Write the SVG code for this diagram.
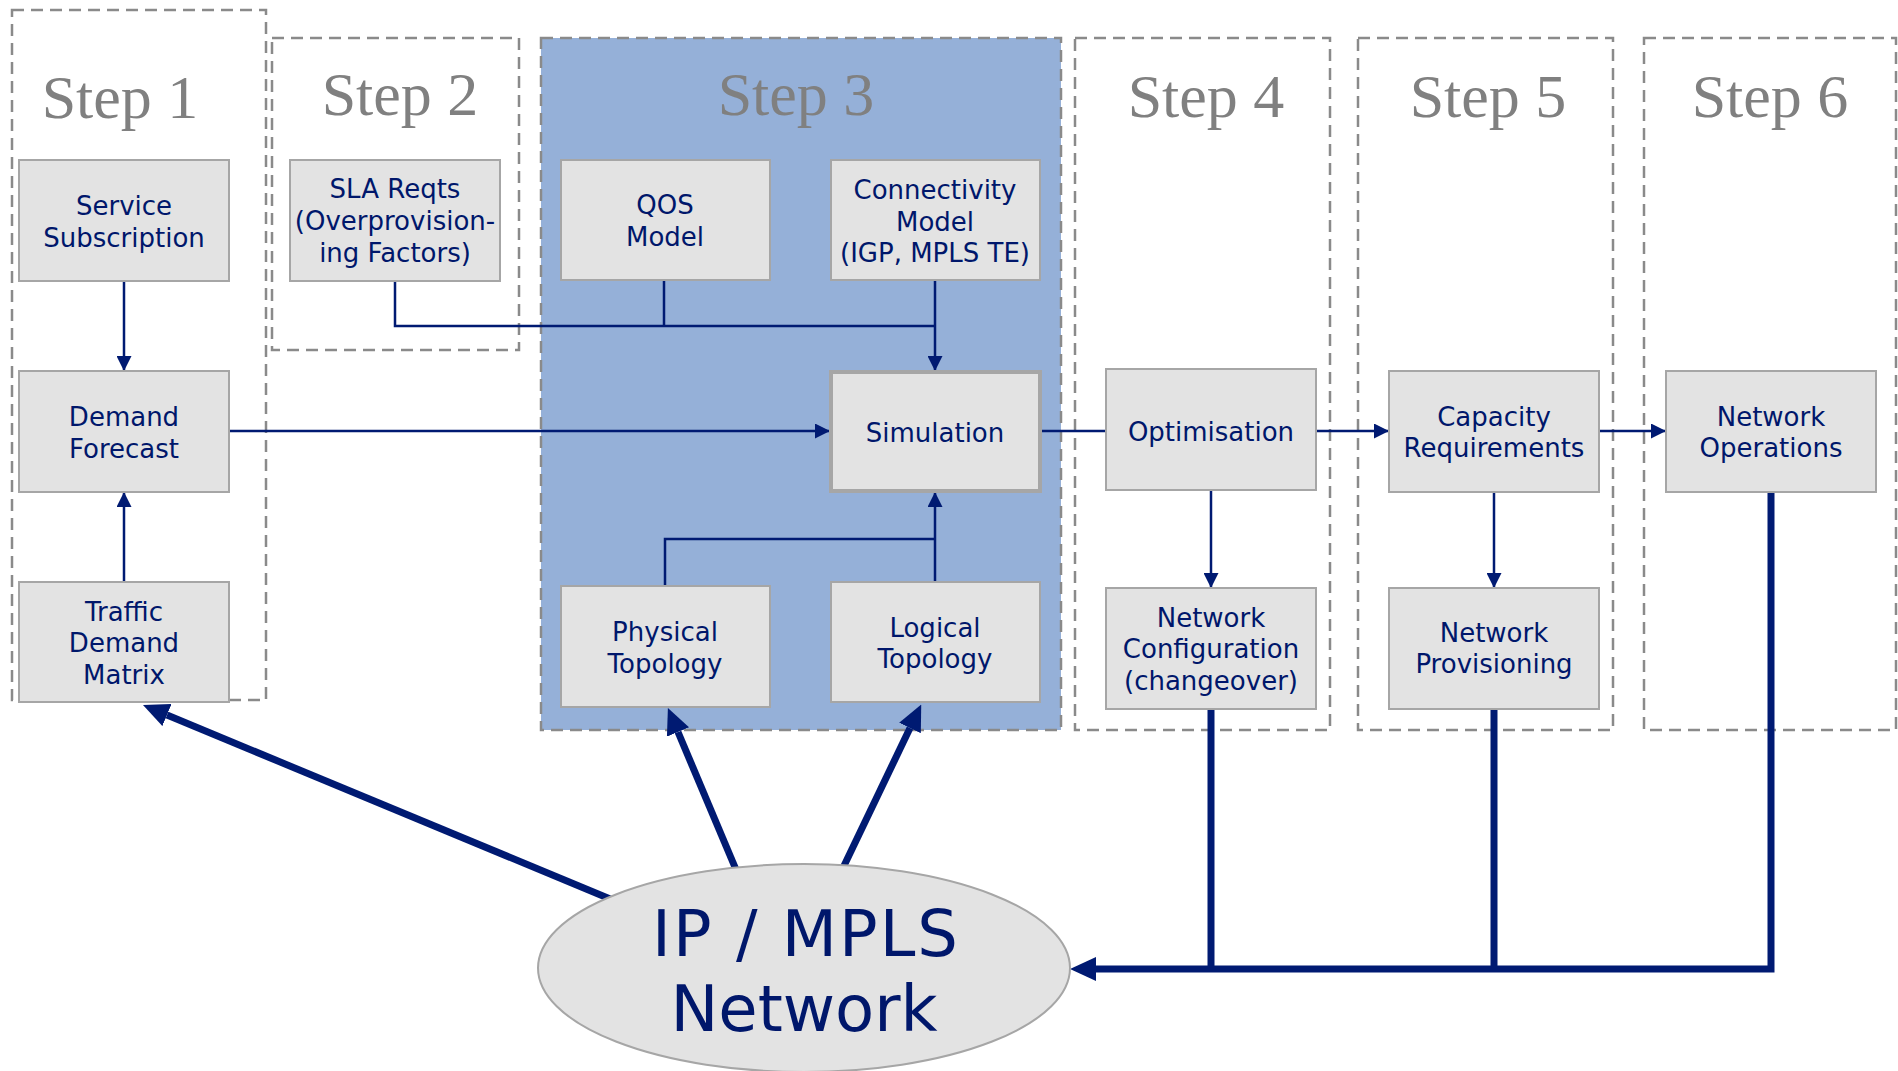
<svg xmlns="http://www.w3.org/2000/svg" width="1898" height="1071" viewBox="0 0 1898 1071">
<style>
.step{fill:none;stroke:#8a8a8a;stroke-width:2.5;stroke-dasharray:12 7}
.step3{fill:#95b0d8;stroke:#8a8a8a;stroke-width:2.5;stroke-dasharray:12 7}
.steplbl{font-family:"Liberation Serif","Times New Roman",serif;font-size:62px;fill:#808080;text-anchor:middle}
.box{fill:#e3e3e3;stroke:#a6a6a6;stroke-width:2}
.boxb{fill:#e3e3e3;stroke:#a6a6a6;stroke-width:4}
.lbl{font-family:"DejaVu Sans",Verdana,sans-serif;font-size:26px;fill:#00176b;text-anchor:middle}
.big{font-family:"DejaVu Sans",Verdana,sans-serif;font-size:64px;fill:#00176b;text-anchor:middle}
.thin{fill:none;stroke:#001a72;stroke-width:2.5}
.thick{fill:none;stroke:#001a72;stroke-width:7}
</style>
<defs>
<marker id="ah" markerUnits="userSpaceOnUse" markerWidth="15" markerHeight="15" refX="15" refY="7.5" orient="auto">
<path d="M0,0 L15,7.5 L0,15 z" fill="#001a72"/>
</marker>
<marker id="ahT" markerUnits="userSpaceOnUse" markerWidth="26" markerHeight="24" refX="0" refY="12" orient="auto">
<path d="M0,0 L26,12 L0,24 z" fill="#001a72"/>
</marker>
</defs>

<g id="step1"><rect class="step" x="12" y="10" width="254" height="690"/><text class="steplbl" x="120" y="118">Step 1</text></g>
<g id="step2"><rect class="step" x="272" y="38" width="247" height="312"/><text class="steplbl" x="400" y="115">Step 2</text></g>
<g id="step3"><rect class="step3" x="541" y="38" width="520" height="692"/><text class="steplbl" x="796" y="115">Step 3</text></g>
<g id="step4"><rect class="step" x="1075" y="38" width="255" height="692"/><text class="steplbl" x="1206" y="117">Step 4</text></g>
<g id="step5"><rect class="step" x="1358" y="38" width="255" height="692"/><text class="steplbl" x="1488" y="117">Step 5</text></g>
<g id="step6"><rect class="step" x="1644" y="38" width="252" height="692"/><text class="steplbl" x="1770" y="117">Step 6</text></g>

<g id="connectors">
<path class="thin" d="M124,281 V371" marker-end="url(#ah)"/>
<path class="thin" d="M124,582 V492" marker-end="url(#ah)"/>
<path class="thin" d="M229,431 H830" marker-end="url(#ah)"/>
<path class="thin" d="M395,281 V326 H935"/>
<path class="thin" d="M664,280 V326"/>
<path class="thin" d="M935,280 V371" marker-end="url(#ah)"/>
<path class="thin" d="M665,586 V539 H935"/>
<path class="thin" d="M935,582 V492" marker-end="url(#ah)"/>
<path class="thin" d="M1041,431 H1106"/>
<path class="thin" d="M1316,431 H1389" marker-end="url(#ah)"/>
<path class="thin" d="M1599,431 H1666" marker-end="url(#ah)"/>
<path class="thin" d="M1211,490 V588" marker-end="url(#ah)"/>
<path class="thin" d="M1494,492 V588" marker-end="url(#ah)"/>
<path class="thick" d="M1211,709 V969"/>
<path class="thick" d="M1494,709 V969"/>
<path class="thick" d="M1771,492 V969 H1096" marker-end="url(#ahT)"/>
<path class="thick" d="M615,901 L167,715" marker-end="url(#ahT)"/>
<path class="thick" d="M737,872 L678,732" marker-end="url(#ahT)"/>
<path class="thick" d="M842,870 L910,728" marker-end="url(#ahT)"/>
</g>

<g id="service-subscription"><rect class="box" x="19" y="160" width="210" height="121"/><text class="lbl" x="124" y="215">Service</text><text class="lbl" x="124" y="247">Subscription</text></g>
<g id="sla-reqts"><rect class="box" x="290" y="160" width="210" height="121"/><text class="lbl" x="395" y="198">SLA Reqts</text><text class="lbl" x="395" y="230">(Overprovision-</text><text class="lbl" x="395" y="262">ing Factors)</text></g>
<g id="qos-model"><rect class="box" x="561" y="160" width="209" height="120"/><text class="lbl" x="665" y="214">QOS</text><text class="lbl" x="665" y="246">Model</text></g>
<g id="connectivity-model"><rect class="box" x="831" y="160" width="209" height="120"/><text class="lbl" x="935" y="199">Connectivity</text><text class="lbl" x="935" y="231">Model</text><text class="lbl" x="935" y="262">(IGP, MPLS TE)</text></g>
<g id="demand-forecast"><rect class="box" x="19" y="371" width="210" height="121"/><text class="lbl" x="124" y="426">Demand</text><text class="lbl" x="124" y="458">Forecast</text></g>
<g id="traffic-demand-matrix"><rect class="box" x="19" y="582" width="210" height="120"/><text class="lbl" x="124" y="621">Traffic</text><text class="lbl" x="124" y="652">Demand</text><text class="lbl" x="124" y="684">Matrix</text></g>
<g id="simulation"><rect class="boxb" x="831" y="372" width="209" height="119"/><text class="lbl" x="935" y="442">Simulation</text></g>
<g id="physical-topology"><rect class="box" x="561" y="586" width="209" height="121"/><text class="lbl" x="665" y="641">Physical</text><text class="lbl" x="665" y="673">Topology</text></g>
<g id="logical-topology"><rect class="box" x="831" y="582" width="209" height="120"/><text class="lbl" x="935" y="637">Logical</text><text class="lbl" x="935" y="668">Topology</text></g>
<g id="optimisation"><rect class="box" x="1106" y="369" width="210" height="121"/><text class="lbl" x="1211" y="441">Optimisation</text></g>
<g id="capacity-requirements"><rect class="box" x="1389" y="371" width="210" height="121"/><text class="lbl" x="1494" y="426">Capacity</text><text class="lbl" x="1494" y="457">Requirements</text></g>
<g id="network-operations"><rect class="box" x="1666" y="371" width="210" height="121"/><text class="lbl" x="1771" y="426">Network</text><text class="lbl" x="1771" y="457">Operations</text></g>
<g id="network-configuration"><rect class="box" x="1106" y="588" width="210" height="121"/><text class="lbl" x="1211" y="627">Network</text><text class="lbl" x="1211" y="658">Configuration</text><text class="lbl" x="1211" y="690">(changeover)</text></g>
<g id="network-provisioning"><rect class="box" x="1389" y="588" width="210" height="121"/><text class="lbl" x="1494" y="642">Network</text><text class="lbl" x="1494" y="673">Provisioning</text></g>
<g id="ip-mpls-network"><ellipse cx="804" cy="968" rx="266" ry="104" fill="#e3e3e3" stroke="#a6a6a6" stroke-width="2"/><text class="big" x="806" y="956" letter-spacing="2">IP / MPLS</text><text class="big" x="804" y="1031">Network</text></g>
</svg>
